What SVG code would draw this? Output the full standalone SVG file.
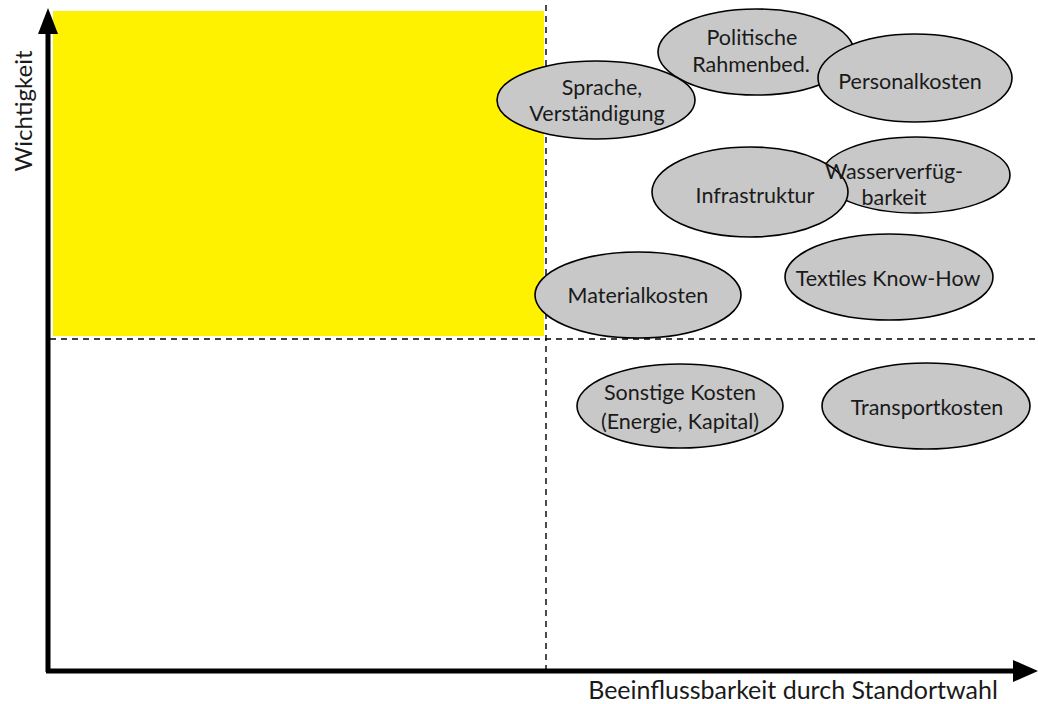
<svg xmlns="http://www.w3.org/2000/svg" width="1038" height="704" viewBox="0 0 1038 704">
<style>
.n ellipse{fill:#c8c8c8;stroke:#000;stroke-width:1.6}
.n text,.lbl{font-family:Lato,"Open Sans","Liberation Sans",sans-serif;font-size:21.5px;fill:#1a1a1a;text-anchor:middle;dominant-baseline:central}
.dash{stroke:#000;stroke-width:1.4;stroke-dasharray:6,5;fill:none}
.axis{stroke:#000;stroke-width:5;fill:none}
</style>
<rect x="0" y="0" width="1038" height="704" fill="#fff"/>
<rect id="quadrant" x="53" y="11" width="491" height="325" fill="#fff200"/>
<g id="connectors">
<line class="dash" x1="546" y1="5" x2="546" y2="670"/>
<line class="dash" x1="50" y1="339" x2="1038" y2="339"/>
<line class="axis" x1="48" y1="672" x2="48" y2="30"/>
<line class="axis" x1="46" y1="671" x2="1016" y2="671"/>
<polygon points="48,8 38,34 58,34" fill="#000"/>
<polygon points="1038,671 1013,660 1013,682" fill="#000"/>
</g>
<text class="lbl" style="font-size:24px" transform="translate(22,111) rotate(-90)">Wichtigkeit</text>
<text class="lbl" style="font-size:25px" x="793" y="689">Beeinflussbarkeit durch Standortwahl</text>
<g id="politische" class="n"><ellipse cx="756" cy="52" rx="98" ry="43"/><text x="752" y="37">Politische</text><text x="751" y="64">Rahmenbed.</text></g>
<g id="sprache" class="n"><ellipse cx="596" cy="100" rx="99" ry="39"/><text x="602" y="87">Sprache,</text><text x="597" y="113">Verständigung</text></g>
<g id="personal" class="n"><ellipse cx="915" cy="78" rx="97" ry="44"/><text x="910" y="81">Personalkosten</text></g>
<g id="wasser" class="n"><ellipse cx="916" cy="175" rx="94" ry="38"/></g>
<g id="infra" class="n"><ellipse cx="750" cy="192" rx="98" ry="45"/><text x="755" y="195">Infrastruktur</text></g>
<g id="wasser-label" class="n"><text x="894" y="171">Wasserverfüg-</text><text x="894" y="197">barkeit</text></g>
<g id="textiles" class="n"><ellipse cx="889" cy="277" rx="104" ry="43"/><text x="888" y="278">Textiles Know-How</text></g>
<g id="material" class="n"><ellipse cx="638" cy="295" rx="103" ry="43"/><text x="638" y="295">Materialkosten</text></g>
<g id="sonstige" class="n"><ellipse cx="680" cy="406" rx="103" ry="42"/><text x="680" y="392">Sonstige Kosten</text><text x="680" y="421">(Energie, Kapital)</text></g>
<g id="transport" class="n"><ellipse cx="926" cy="406" rx="104" ry="43"/><text x="927" y="407">Transportkosten</text></g>
</svg>
